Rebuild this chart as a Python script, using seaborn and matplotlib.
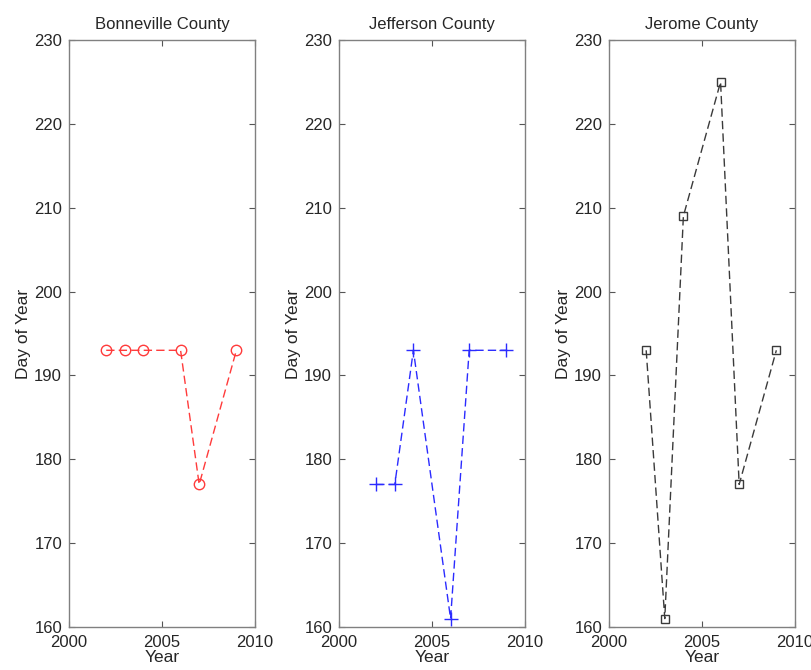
import matplotlib
matplotlib.use("Agg")
import matplotlib.pyplot as plt
import seaborn as sns
import pandas as pd

years = [2002, 2003, 2004, 2006, 2007, 2009]
bonneville = [193, 193, 193, 193, 177, 193]
jefferson = [177, 177, 193, 161, 193, 193]
jerome = [193, 161, 209, 225, 177, 193]
titles = ["Bonneville County", "Jefferson County", "Jerome County"]
x_ticks = [2000, 2005, 2010]
y_ticks = [160, 170, 180, 190, 200, 210, 220, 230]

sns.set_style("white")
plt.rcParams['font.family'] = ['Liberation Sans', 'DejaVu Sans']

fig = plt.figure(figsize=(8.12, 6.70), dpi=100)
lefts = [0.085, 0.4175, 0.75]
series = [bonneville, jefferson, jerome]
colors = ["#ff3b3b", "#2b2bff", "#3a3a3a"]
markers = ["o", "+", "s"]
msizes = [7.5, 10, 6]

for left, vals, title, c, m, ms in zip(lefts, series, titles, colors, markers, msizes):
    ax = fig.add_axes([left, 0.0642, 0.229, 0.876])
    df = pd.DataFrame({"Year": years, "Day": vals})
    kw = dict(markerfacecolor="none", markeredgecolor=c, markersize=ms, markeredgewidth=1.0)
    sns.lineplot(data=df, x="Year", y="Day", ax=ax, color=c, linestyle=(0, (6, 3)),
                 linewidth=1.0, marker=m, **kw)
    ax.set_xlim(2000, 2010)
    ax.set_ylim(160, 230)
    ax.set_xticks(x_ticks)
    ax.set_yticks(y_ticks)
    ax.tick_params(direction="in", top=True, right=True, left=True, bottom=True,
                   length=4, width=0.8, color="#555555", labelsize=12)
    ax.tick_params(axis="y", pad=5)
    ax.tick_params(axis="x", pad=6)
    for s in ax.spines.values():
        s.set_color("#808080")
        s.set_linewidth(1.0)
        s.set_visible(True)
    ax.set_title(title, fontsize=12, pad=8)
    ax.set_xlabel("Year", fontsize=12.5, labelpad=0)
    ax.set_ylabel("Day of Year", fontsize=12.5, labelpad=2)

fig.savefig("out.png", dpi=100)
